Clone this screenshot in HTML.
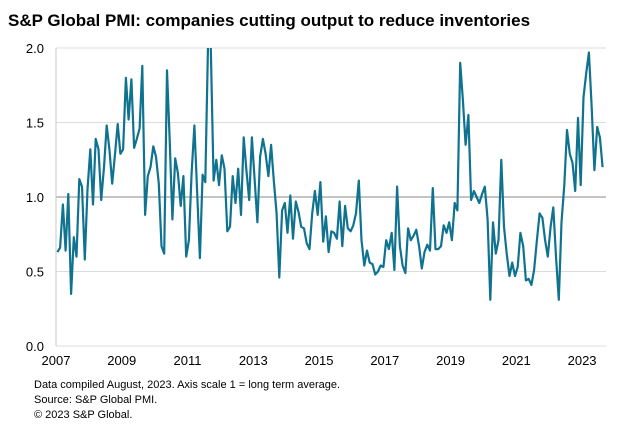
<!DOCTYPE html>
<html><head><meta charset="utf-8"><style>
body{margin:0;background:#fff;font-family:"Liberation Sans",Arial,sans-serif;}
#wrap{position:relative;width:641px;height:440px;overflow:hidden;}
</style></head><body>
<div id="wrap">
<svg id="chart" width="641" height="440">
<text x="8" y="26" font-size="17" font-weight="bold" fill="#000">S&amp;P Global PMI: companies cutting output to reduce inventories</text>
<g id="grid"></g><g id="series"></g><g id="axes"></g>
<text x="34" y="388" font-size="11" fill="#000">Data compiled August, 2023. Axis scale 1 = long term average.</text>
<text x="34" y="403" font-size="11" fill="#000">Source: S&amp;P Global PMI.</text>
<text x="34" y="418" font-size="11" fill="#000">© 2023 S&amp;P Global.</text>
</svg>
</div>
<script>
const yTicks=[0.0,0.5,1.0,1.5,2.0];
const yTickLabels=["0.0","0.5","1.0","1.5","2.0"];
const xTickYears=[2007,2009,2011,2013,2015,2017,2019,2021,2023];
const startYear=2007;
const values=[0.63,0.66,0.95,0.64,1.02,0.35,0.73,0.60,1.12,1.07,0.58,1.05,1.32,0.95,1.39,1.32,0.98,1.20,1.48,1.32,1.09,1.28,1.49,1.29,1.32,1.80,1.52,1.79,1.33,1.39,1.46,1.88,0.88,1.14,1.20,1.34,1.27,1.09,0.67,0.62,1.85,1.38,0.85,1.26,1.16,0.94,1.14,0.60,0.71,1.16,1.48,1.04,0.59,1.15,1.10,2.05,2.0,1.11,1.25,1.08,1.28,1.19,0.77,0.80,1.14,0.96,1.19,0.88,1.40,1.18,0.98,1.40,1.11,0.83,1.27,1.39,1.29,1.14,1.35,1.11,0.89,0.46,0.91,0.96,0.76,1.01,0.72,0.97,0.90,0.80,0.79,0.69,0.65,0.89,1.04,0.88,1.10,0.70,0.87,0.63,0.77,0.76,0.72,0.97,0.67,0.94,0.79,0.77,0.81,0.89,1.11,0.71,0.54,0.64,0.56,0.55,0.48,0.50,0.54,0.53,0.71,0.65,0.76,0.51,1.07,0.67,0.54,0.49,0.79,0.71,0.74,0.78,0.67,0.52,0.63,0.68,0.64,1.06,0.65,0.65,0.67,0.81,0.76,0.83,0.71,0.96,0.91,1.90,1.65,1.35,1.55,0.98,1.04,1.00,0.96,1.02,1.07,0.85,0.31,0.83,0.62,0.71,1.25,0.80,0.62,0.47,0.56,0.47,0.53,0.76,0.67,0.44,0.45,0.41,0.51,0.71,0.89,0.86,0.71,0.60,0.80,0.93,0.60,0.31,0.83,1.08,1.45,1.29,1.23,1.04,1.53,1.08,1.67,1.83,1.97,1.60,1.18,1.47,1.40,1.20];
const NS="http://www.w3.org/2000/svg";
const L=56,R=604,T=48,B=346,totalMonths=200,yMin=0,yMax=2;
const mw=(R-L)/totalMonths;
function xScale(i){return L+(i+0.5)*mw;}
function xYear(y){return L+(y-startYear)*12*mw;}
function yScale(v){return B-(v-yMin)/(yMax-yMin)*(B-T);}
function mk(tag,attrs,parent){const e=document.createElementNS(NS,tag);for(const k in attrs)e.setAttribute(k,attrs[k]);parent.appendChild(e);return e;}
const grid=document.getElementById('grid'),axes=document.getElementById('axes'),series=document.getElementById('series');
yTicks.forEach((t,k)=>{
 const y=yScale(t);
 const g=mk('line',{x1:L,x2:R+2,y1:y,y2:y,stroke:t===1?'#a0a0a0':'#dcdcdc','stroke-width':t===1?1.3:1},grid);
 
 
 const tx=mk('text',{x:L-12,y:y+5,'font-size':13,'text-anchor':'end',fill:'#000'},axes);
 tx.textContent=yTickLabels[k];
 
 
});
const ax=mk('line',{x1:L,x2:L,y1:T,y2:B,stroke:'#c8c8c8'},axes);


xTickYears.forEach(yr=>{
 const tx=mk('text',{x:xYear(yr),y:365,'font-size':13,'text-anchor':'middle',fill:'#000'},axes);
 tx.textContent=yr;
 
 
});
const clip=mk('clipPath',{id:'pc'},document.getElementById('chart'));
mk('rect',{x:L,y:T,width:R-L+4,height:B-T},clip);
const d=values.map((v,i)=>(i?'L':'M')+xScale(i).toFixed(1)+' '+yScale(v).toFixed(1)).join(' ');
const p=mk('path',{d:d,fill:'none',stroke:'#0f7390','stroke-width':2.2,'stroke-linejoin':'round','clip-path':'url(#pc)'},series);


</script>
</body></html>
